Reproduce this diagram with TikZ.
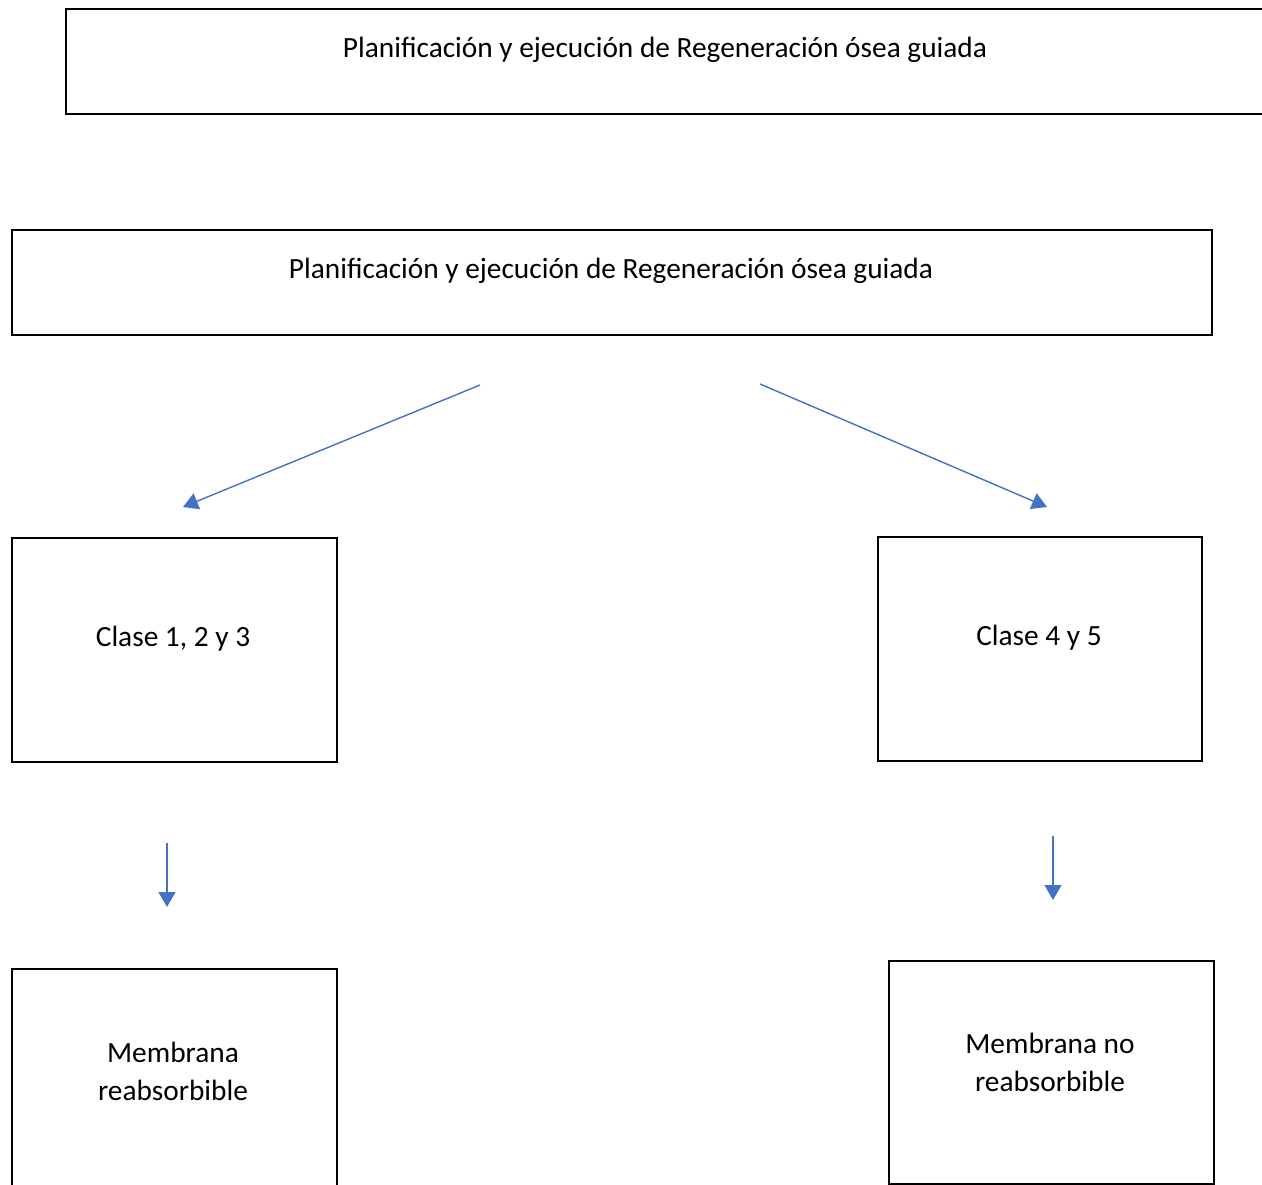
\documentclass[tikz,border=0pt]{standalone}
\usepackage{fontspec}
\setmainfont{Carlito}
\usetikzlibrary{arrows.meta}
\definecolor{arrowblue}{HTML}{4472C4}
\tikzset{
  box/.style={draw=black, line width=1.3pt, fill=none, inner sep=0pt, anchor=north west},
  lbl/.style={font=\fontsize{16.7}{21.6}\selectfont, inner sep=0pt, align=center},
  conn/.style={draw=arrowblue, line width=0.8pt, -{Triangle[length=0.3cm, width=0.34cm]}}
}
\begin{document}
\begin{tikzpicture}[x=0.02cm, y=-0.02cm]
\useasboundingbox (0,0) rectangle (1262,1185);
\clip (0,0) rectangle (1262,1185);
% boxes
\node[box, minimum width=24cm, minimum height=2.1cm] (top) at (65,8) {};
\node[box, minimum width=24cm, minimum height=2.1cm] (plan) at (11,229) {};
\node[box, minimum width=6.5cm, minimum height=4.48cm] (c123) at (11,537) {};
\node[box, minimum width=6.48cm, minimum height=4.48cm] (c45) at (877,536) {};
\node[box, minimum width=6.5cm, minimum height=5cm] (mreab) at (11,968) {};
\node[box, minimum width=6.5cm, minimum height=4.46cm] (mnoreab) at (888,960) {};
% texts
\node[lbl] (ttop) at (665,50) {Planificación y ejecución de Regeneración ósea guiada};
\node[lbl] (tplan) at (611,271) {Planificación y ejecución de Regeneración ósea guiada};
\node[lbl] (t123) at (173,639) {Clase 1, 2 y 3};
\node[lbl] (t45) at (1039,638) {Clase 4 y 5};
\node[lbl] (treab) at (173,1071) {Membrana\\reabsorbible};
\node[lbl] (tnoreab) at (1050,1062) {Membrana no\\reabsorbible};
% connector ends
\coordinate (a1s) at (480,385);
\coordinate (a1e) at (183,507);
\coordinate (a2s) at (760,384);
\coordinate (a2e) at (1047,507);
\coordinate (a3s) at (167,843);
\coordinate (a3e) at (167,907);
\coordinate (a4s) at (1053,836);
\coordinate (a4e) at (1053,900);
\draw[conn] (a1s) -- (a1e);
\draw[conn] (a2s) -- (a2e);
\draw[conn] (a3s) -- (a3e);
\draw[conn] (a4s) -- (a4e);
\end{tikzpicture}
\end{document}
